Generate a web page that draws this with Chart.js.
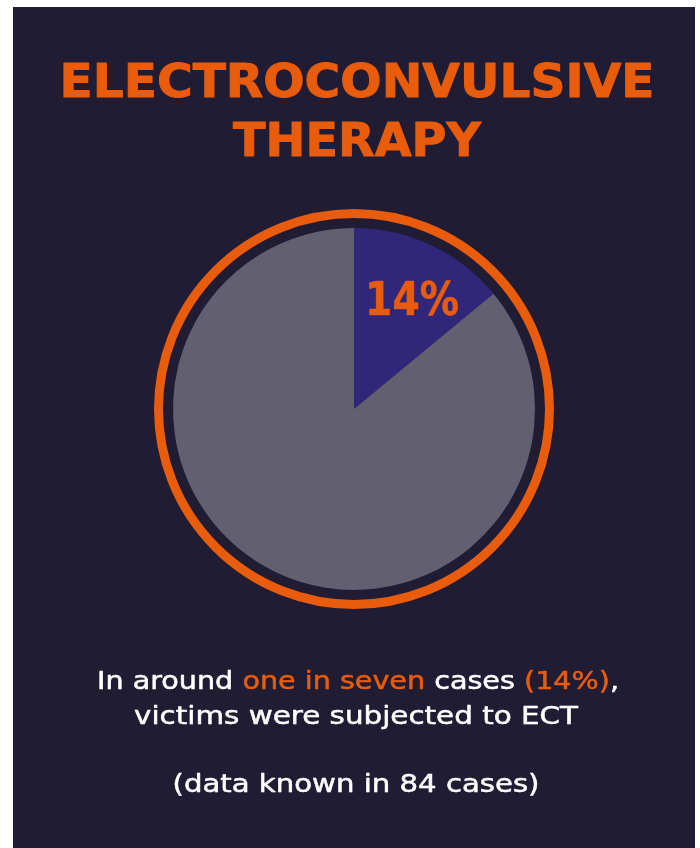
<!DOCTYPE html>
<html>
<head>
<meta charset="utf-8">
<script src="https://cdn.jsdelivr.net/npm/chart.js@4/dist/chart.umd.min.js"></script>
<style>
  html, body { margin: 0; padding: 0; background: #ffffff; }
  canvas { display: block; }
</style>
</head>
<body>
<canvas id="c" width="700" height="848"></canvas>
<script>
// ---- data ----
const categories = ['Subjected to ECT', 'Not subjected to ECT'];
const values = [14, 86];
const sliceLabels = ['14%', ''];
const titleLines = ['ELECTROCONVULSIVE', 'THERAPY'];
const captionLine1 = [['In around ', 'w'], ['one in seven', 'o'], [' cases ', 'w'], ['(14%)', 'o'], [',', 'w']];
const captionLine2 = [['victims were subjected to ECT', 'w']];
const captionLine3 = [['(data known in 84 cases)', 'w']];

// ---- styles ----
const BG = '#201c33';
const ORANGE = '#e85c0c';
const PURPLE = '#30277a';
const GREY = '#625f70';
const WHITE = '#ffffff';

function drawFitted(ctx, segs, cx, baseline, font, targetWidth, strokeW) {
  ctx.font = font;
  let total = 0;
  segs.forEach(s => total += ctx.measureText(s[0]).width);
  const sc = targetWidth / total;
  ctx.save();
  ctx.translate(cx - targetWidth / 2, baseline);
  ctx.scale(sc, 1);
  ctx.textAlign = 'left';
  ctx.textBaseline = 'alphabetic';
  ctx.lineJoin = 'round';
  let x = 0;
  segs.forEach(s => {
    const col = s[1] === 'o' ? ORANGE : WHITE;
    ctx.fillStyle = col;
    ctx.fillText(s[0], x, 0);
    if (strokeW) {
      ctx.strokeStyle = col;
      ctx.lineWidth = strokeW;
      ctx.strokeText(s[0], x, 0);
    }
    x += ctx.measureText(s[0]).width;
  });
  ctx.restore();
}

const decor = {
  id: 'decor',
  beforeDraw(chart) {
    const ctx = chart.ctx;
    ctx.save();
    ctx.fillStyle = '#ffffff';
    ctx.fillRect(0, 0, chart.width, chart.height);
    ctx.fillStyle = BG;
    ctx.fillRect(13, 7, 682, 841);
    ctx.restore();
  },
  afterDatasetsDraw(chart) {
    const ctx = chart.ctx;
    const meta = chart.getDatasetMeta(0);
    const a0 = meta.data[0];
    const cx = a0.x, cy = a0.y, R = a0.outerRadius;
    // outer ring
    ctx.save();
    ctx.beginPath();
    ctx.arc(cx, cy, R + 14.5, 0, Math.PI * 2);
    ctx.strokeStyle = ORANGE;
    ctx.lineWidth = 9;
    ctx.stroke();
    ctx.restore();
    // slice label
    meta.data.forEach((arc, i) => {
      const txt = sliceLabels[i];
      if (!txt) return;
      const ang = arc.startAngle + 0.55 * (arc.endAngle - arc.startAngle);
      const r = arc.outerRadius * 0.69;
      const x = arc.x + Math.cos(ang) * r;
      const y = arc.y + Math.sin(ang) * r;
      drawFitted(ctx, [[txt, 'o']], x, y + 17, 'bold 46px "DejaVu Sans"', 94, 0.6);
    });
    // title
    drawFitted(ctx, [[titleLines[0], 'o']], 357, 97, 'bold 47px "DejaVu Sans"', 595, 1);
    drawFitted(ctx, [[titleLines[1], 'o']], 357, 156, 'bold 47px "DejaVu Sans"', 248, 1);
    // captions
    drawFitted(ctx, captionLine1, 358, 689, '24px "DejaVu Sans"', 522, 0.5);
    drawFitted(ctx, captionLine2, 356, 724, '24px "DejaVu Sans"', 444, 0.5);
    drawFitted(ctx, captionLine3, 356, 792, '24px "DejaVu Sans"', 367, 0.5);
  }
};

new Chart(document.getElementById('c'), {
  type: 'pie',
  data: {
    labels: categories,
    datasets: [{
      data: values,
      backgroundColor: [PURPLE, GREY],
      borderWidth: 0,
      hoverOffset: 0,
      offset: 0
    }]
  },
  options: {
    responsive: false,
    animation: false,
    devicePixelRatio: 1,
    layout: { padding: { left: 173, right: 165, top: 228, bottom: 258 } },
    plugins: { legend: { display: false }, tooltip: { enabled: false } },
    events: []
  },
  plugins: [decor]
});
</script>
</body>
</html>
